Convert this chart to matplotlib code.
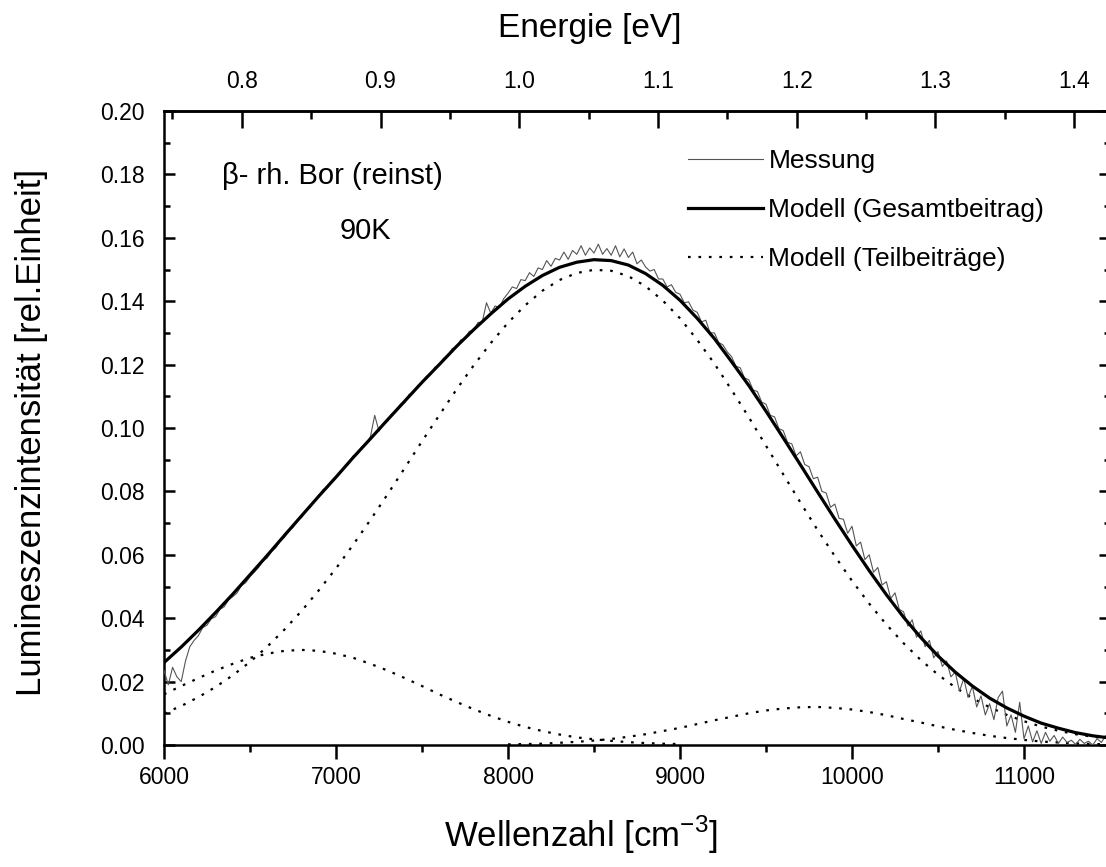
import numpy as np
import matplotlib
matplotlib.use("Agg")
import matplotlib.pyplot as plt
from matplotlib.ticker import MultipleLocator, FixedLocator, FormatStrFormatter

plt.rcParams['font.family'] = ['Liberation Sans', 'DejaVu Sans']

# ---------------- data ----------------
# model curves sampled every 100 cm^-1
k_model = list(range(6000, 11501, 100))
total_model = [0.0260, 0.0309, 0.0362, 0.0418, 0.0476, 0.0537, 0.0598, 0.0661, 0.0723, 0.0785,
               0.0845, 0.0907, 0.0966, 0.1026, 0.1085, 0.1144, 0.1200, 0.1257, 0.1310, 0.1360,
               0.1407, 0.1447, 0.1481, 0.1507, 0.1523, 0.1531, 0.1528, 0.1514, 0.1487, 0.1450,
               0.1403, 0.1346, 0.1282, 0.1209, 0.1134, 0.1053, 0.0969, 0.0884, 0.0798, 0.0713,
               0.0630, 0.0550, 0.0474, 0.0403, 0.0339, 0.0281, 0.0230, 0.0186, 0.0148, 0.0117,
               0.0091, 0.0069, 0.0053, 0.0039, 0.0029, 0.0022]
part_main = [0.0100, 0.0123, 0.0151, 0.0183, 0.0220, 0.0262, 0.0310, 0.0364, 0.0423, 0.0488,
             0.0557, 0.0632, 0.0710, 0.0791, 0.0874, 0.0958, 0.1040, 0.1121, 0.1197, 0.1268,
             0.1332, 0.1387, 0.1433, 0.1467, 0.1489, 0.1499, 0.1496, 0.1479, 0.1447, 0.1402,
             0.1346, 0.1278, 0.1203, 0.1120, 0.1034, 0.0944, 0.0854, 0.0765, 0.0678, 0.0596,
             0.0518, 0.0446, 0.0380, 0.0321, 0.0268, 0.0222, 0.0182, 0.0148, 0.0119, 0.0095,
             0.0075, 0.0058, 0.0045, 0.0034, 0.0026, 0.0020]
k_low = list(range(6000, 9001, 100))
part_low = [0.0160, 0.0186, 0.0211, 0.0235, 0.0256, 0.0275, 0.0288, 0.0297, 0.0300, 0.0297,
            0.0288, 0.0275, 0.0256, 0.0235, 0.0211, 0.0186, 0.0160, 0.0136, 0.0113, 0.0092,
            0.0073, 0.0057, 0.0044, 0.0033, 0.0024, 0.0018, 0.0013, 0.0009, 0.0006, 0.0004,
            0.0003]
k_high = list(range(8000, 11501, 100))
part_high = [0.0002, 0.0003, 0.0004, 0.0007, 0.0010, 0.0014, 0.0019, 0.0026, 0.0034, 0.0044,
             0.0054, 0.0066, 0.0078, 0.0089, 0.0100, 0.0109, 0.0115, 0.0119, 0.0120, 0.0117,
             0.0112, 0.0104, 0.0094, 0.0082, 0.0071, 0.0059, 0.0048, 0.0038, 0.0029, 0.0022,
             0.0016, 0.0011, 0.0008, 0.0005, 0.0003, 0.0002]

# measurement sampled every 25 cm^-1
k_meas = list(range(6000, 11501, 25))
meas = [0.0235, 0.0190, 0.0245, 0.0215, 0.0200, 0.0265, 0.0310, 0.0330,
        0.0345, 0.0370, 0.0378, 0.0398, 0.0405, 0.0428, 0.0436, 0.0458,
        0.0468, 0.0480, 0.0503, 0.0512, 0.0531, 0.0545, 0.0560, 0.0580,
        0.0590, 0.0611, 0.0622, 0.0643, 0.0655, 0.0676, 0.0686, 0.0710,
        0.0718, 0.0741, 0.0749, 0.0772, 0.0783, 0.0806, 0.0811, 0.0834,
        0.0848, 0.0857, 0.0880, 0.0889, 0.0912, 0.0918, 0.0941, 0.0948,
        0.0972, 0.1040, 0.0990, 0.1015, 0.1021, 0.1045, 0.1052, 0.1075,
        0.1080, 0.1106, 0.1111, 0.1134, 0.1140, 0.1163, 0.1168, 0.1192,
        0.1197, 0.1220, 0.1226, 0.1250, 0.1255, 0.1278, 0.1282, 0.1305,
        0.1308, 0.1333, 0.1334, 0.1395, 0.1362, 0.1385, 0.1380, 0.1408,
        0.1425, 0.1445, 0.1440, 0.1468, 0.1465, 0.1490, 0.1478, 0.1505,
        0.1500, 0.1528, 0.1510, 0.1535, 0.1530, 0.1555, 0.1532, 0.1560,
        0.1548, 0.1575, 0.1545, 0.1568, 0.1552, 0.1580, 0.1548, 0.1566,
        0.1545, 0.1575, 0.1540, 0.1565, 0.1538, 0.1555, 0.1518, 0.1530,
        0.1508, 0.1495, 0.1500, 0.1470, 0.1470, 0.1445, 0.1452, 0.1428,
        0.1422, 0.1395, 0.1398, 0.1372, 0.1365, 0.1335, 0.1340, 0.1300,
        0.1300, 0.1270, 0.1262, 0.1240, 0.1225, 0.1195, 0.1190, 0.1158,
        0.1152, 0.1120, 0.1115, 0.1082, 0.1075, 0.1040, 0.1035, 0.0998,
        0.0992, 0.0955, 0.0950, 0.0912, 0.0925, 0.0885, 0.0878, 0.0840,
        0.0845, 0.0800, 0.0795, 0.0750, 0.0760, 0.0715, 0.0712, 0.0668,
        0.0690, 0.0628, 0.0640, 0.0585, 0.0600, 0.0545, 0.0560, 0.0505,
        0.0515, 0.0462, 0.0480, 0.0428, 0.0420, 0.0375, 0.0395, 0.0340,
        0.0360, 0.0310, 0.0330, 0.0275, 0.0295, 0.0248, 0.0265, 0.0215,
        0.0230, 0.0170, 0.0210, 0.0150, 0.0185, 0.0120, 0.0155, 0.0095,
        0.0130, 0.0080, 0.0150, 0.0170, 0.0060, 0.0095, 0.0040, 0.0135,
        0.0020, 0.0060, 0.0010, 0.0045, 0.0005, 0.0040, 0.0012, 0.0030,
        0.0005, 0.0025, 0.0008, 0.0015, 0.0002, 0.0018, 0.0005, 0.0012,
        0.0000, 0.0020, 0.0008, 0.0030, 0.0015]

energy_ticks = [0.8, 0.9, 1.0, 1.1, 1.2, 1.3, 1.4]
EV_PER_CM = 1.0 / 8065.5  # conversion wavenumber -> energy

# ---------------- figure ----------------
W, H = 1106, 867
fig = plt.figure(figsize=(W / 100, H / 100), dpi=100)
ax = fig.add_axes([164 / W, 122 / H, 946 / W, 634 / H])

ax.plot(k_meas, meas, color='#555555', lw=0.8, label='Messung', zorder=3)
ax.plot(k_model, total_model, color='black', lw=2.3, label='Modell (Gesamtbeitrag)', zorder=4)
dot = (0, (1.2, 3.5))
ax.plot(k_model, part_main, color='black', lw=1.6, ls=dot, label='Modell (Teilbeiträge)', zorder=2)
ax.plot(k_low, part_low, color='black', lw=1.6, ls=dot, zorder=2)
ax.plot(k_high, part_high, color='black', lw=1.6, ls=dot, zorder=2)

ax.set_xlim(6000, 11500)
ax.set_ylim(0.0, 0.20)

for s in ax.spines.values():
    s.set_linewidth(1.8)

ax.xaxis.set_major_locator(MultipleLocator(1000))
ax.xaxis.set_minor_locator(MultipleLocator(500))
ax.yaxis.set_major_locator(MultipleLocator(0.02))
ax.yaxis.set_minor_locator(MultipleLocator(0.01))
ax.yaxis.set_major_formatter(FormatStrFormatter('%.2f'))

ax.tick_params(axis='x', which='major', direction='out', length=10, width=1.8,
               labelsize=16.5, pad=5, top=False)
ax.tick_params(axis='x', which='minor', direction='out', length=5, width=1.8, top=False)
ax.tick_params(axis='y', which='major', direction='in', length=8, width=1.8,
               labelsize=16.5, pad=14, right=True)
ax.tick_params(axis='y', which='minor', direction='in', length=4, width=1.8, right=True)

top = ax.secondary_xaxis('top', functions=(lambda k: np.asarray(k) * EV_PER_CM,
                                           lambda e: np.asarray(e) / EV_PER_CM))
top.xaxis.set_major_locator(FixedLocator(energy_ticks))
top.xaxis.set_minor_locator(MultipleLocator(0.05))
top.xaxis.set_major_formatter(FormatStrFormatter('%.1f'))
top.tick_params(axis='x', which='major', direction='in', length=12, width=1.8,
                labelsize=16.5, pad=13)
top.tick_params(axis='x', which='minor', direction='in', length=6, width=1.8)
top.spines['top'].set_linewidth(1.8)
top.set_xlabel('Energie [eV]', fontsize=24, va='center')
top.xaxis.set_label_coords(590 / W, 1 - 28 / H, transform=fig.transFigure)

ax.set_xlabel('Wellenzahl [cm$^{\\mathregular{-3}}$]', fontsize=25, va='center')
ax.xaxis.set_label_coords(581 / W, 1 - 835 / H, transform=fig.transFigure)
ax.set_ylabel('Lumineszenzintensität [rel.Einheit]', fontsize=25, va='center')
ax.yaxis.set_label_coords(32 / W, 1 - 432 / H, transform=fig.transFigure)

ax.text(222 / W, 1 - 176 / H, 'β- rh. Bor (reinst)', transform=fig.transFigure,
        fontsize=21, ha='left', va='center')
ax.text(365 / W, 1 - 231 / H, '90K', transform=fig.transFigure,
        fontsize=21, ha='center', va='center')

leg = ax.legend(loc='upper left', bbox_to_anchor=(688 / W, 1 - 149 / H),
                bbox_transform=fig.transFigure, frameon=False, fontsize=19,
                handlelength=2.85, handletextpad=0.2, labelspacing=0.95,
                borderpad=0, borderaxespad=0)

fig.savefig('out.png', dpi=100)
